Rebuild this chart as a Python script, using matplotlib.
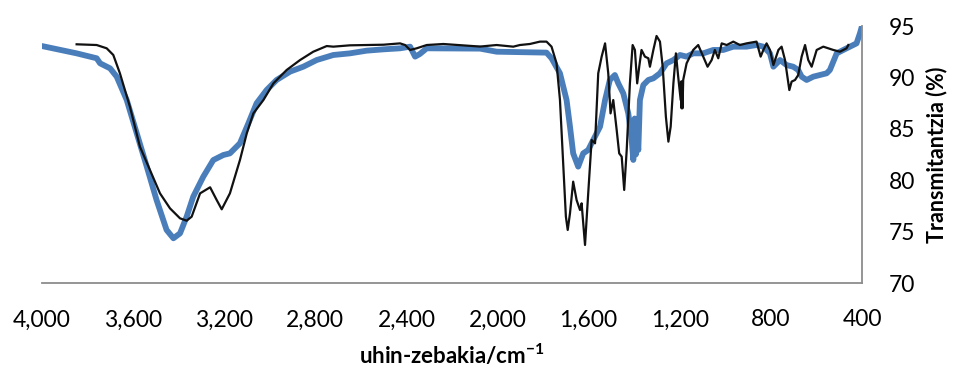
import matplotlib
matplotlib.use("Agg")
import matplotlib.pyplot as plt
from matplotlib.ticker import FuncFormatter

plt.rcParams['font.family'] = ['Lato', 'DejaVu Sans']
plt.rcParams['mathtext.fontset'] = 'custom'
plt.rcParams['mathtext.rm'] = 'Lato'
plt.rcParams['mathtext.bf'] = 'Lato:bold'

# Blue spectrum (wavenumber cm-1, transmittance %)
blue_wn = [4000, 3848, 3760, 3745, 3701, 3672, 3628, 3584, 3540, 3497, 3453, 3423,
           3394, 3365, 3336, 3292, 3248, 3204, 3175, 3131, 3094, 3058, 3014, 2970,
           2911, 2853, 2794, 2721, 2648, 2575, 2501, 2428, 2384, 2362, 2341, 2311,
           2077, 2004, 1785, 1763, 1726, 1697, 1682, 1668, 1646, 1624, 1602, 1580,
           1550, 1528, 1507, 1485, 1470, 1448, 1426, 1411, 1404, 1398, 1393, 1389,
           1382, 1375, 1360, 1338, 1316, 1287, 1258, 1228, 1199, 1170, 1141, 1097,
           1053, 1009, 965, 907, 863, 833, 804, 789, 760, 731, 702, 680, 665, 643,
           614, 555, 541, 511, 482, 453, 424, 409, 400]
blue_t = [93.05, 92.34, 91.86, 91.37, 90.88, 90.07, 87.8, 84.56, 81.32, 78.07, 75.16, 74.35,
          74.83, 76.45, 78.4, 80.34, 81.96, 82.45, 82.61, 83.59, 85.53, 87.48, 88.77, 89.75,
          90.56, 91.04, 91.69, 92.18, 92.34, 92.6, 92.73, 92.83, 92.99, 92.02, 92.28, 92.83,
          92.8, 92.5, 92.41, 91.86, 90.4, 87.8, 85.21, 82.61, 81.32, 82.61, 82.94, 83.91,
          85.21, 87.8, 89.75, 90.23, 89.42, 88.45, 86.5, 83.91, 81.97, 86.0, 82.5, 84.56,
          82.94, 87.8, 89.26, 89.75, 89.91, 90.4, 91.37, 91.69, 92.18, 92.02, 92.34, 92.34,
          92.67, 92.67, 92.99, 92.99, 93.15, 92.99, 92.34, 91.04, 91.69, 91.2, 91.04, 90.72, 90.07, 89.75,
          90.07, 90.4, 90.72, 92.34, 92.67, 92.99, 93.31, 94.29, 95.0]

# Black spectrum
black_wn = [3848, 3760, 3716, 3687, 3658, 3614, 3570, 3526, 3482, 3438, 3394, 3365,
            3343, 3306, 3262, 3233, 3211, 3175, 3131, 3101, 3072, 3028, 2984, 2926,
            2867, 2809, 2750, 2721, 2648, 2575, 2501, 2428, 2406, 2384, 2355, 2311,
            2238, 2077, 2004, 1931, 1902, 1858, 1814, 1785, 1763, 1741, 1726, 1711,
            1700, 1692, 1682, 1668, 1653, 1638, 1631, 1616, 1602, 1587, 1572, 1558,
            1543, 1528, 1514, 1504, 1492, 1477, 1466, 1455, 1444, 1433, 1419, 1407,
            1397, 1387, 1378, 1368, 1353, 1338, 1331, 1316, 1302, 1287, 1275, 1261,
            1250, 1240, 1228, 1217, 1207, 1196, 1194, 1192, 1190, 1188, 1185, 1170,
            1141, 1119, 1097, 1078, 1060, 1046, 1031, 1016, 994, 965, 936, 907, 863,
            845, 833, 819, 804, 789, 767, 753, 738, 719, 709, 694, 680, 665, 650,
            636, 621, 599, 570, 526, 497, 468, 460]
black_t = [93.22, 93.15, 92.83, 92.18, 90.4, 87.15, 83.26, 81.0, 78.72, 77.26, 76.29, 76.06,
           76.45, 78.72, 79.31, 78.07, 77.17, 78.72, 81.96, 84.56, 86.5, 87.8, 89.42, 90.72,
           91.69, 92.5, 93.05, 92.99, 93.12, 93.15, 93.18, 93.31, 93.15, 92.67, 92.83, 93.15,
           93.25, 93.0, 93.15, 92.99, 93.15, 93.25, 93.48, 93.48, 92.99, 91.37, 87.8, 81.32,
           76.45, 75.16, 76.78, 79.86, 78.07, 77.1, 77.75, 73.7, 78.72, 83.91, 83.59, 90.4,
           92.02, 93.31, 90.4, 86.5, 87.8, 84.88, 82.61, 82.29, 79.05, 82.94, 89.42, 93.15,
           92.67, 89.42, 91.04, 92.67, 92.02, 91.86, 91.04, 92.67, 94.03, 93.48, 91.04, 86.18,
           83.75, 85.21, 89.42, 92.34, 90.07, 87.8, 89.6, 86.99, 89.6, 87.0, 89.75, 91.37,
           92.67, 93.15, 92.02, 91.04, 91.69, 92.67, 91.86, 93.31, 93.15, 93.48, 93.15, 93.31, 93.48,
           92.02, 92.67, 93.31, 92.67, 91.2, 92.67, 92.99, 91.69, 88.77, 89.59, 89.75, 90.23, 92.02, 93.15,
           91.69, 91.04, 92.67, 92.99, 92.67, 92.5, 92.83, 93.15]

x_ticks = [4000, 3600, 3200, 2800, 2400, 2000, 1600, 1200, 800, 400]
y_ticks = [70, 75, 80, 85, 90, 95]

fig = plt.figure(figsize=(9.54, 3.69), dpi=100)
ax = fig.add_axes([42/954, 1-283/369, 820/954, 257/369])

ax.plot(blue_wn, blue_t, color='#4a7ebb', lw=4.2, solid_joinstyle='round',
        solid_capstyle='round', zorder=2)
ax.plot(black_wn, black_t, color='#111111', lw=1.6, solid_joinstyle='round', zorder=3)

ax.set_xlim(4000, 400)
ax.set_ylim(70, 95)
ax.set_xticks(x_ticks)
ax.set_yticks(y_ticks)
ax.xaxis.set_major_formatter(FuncFormatter(lambda v, p: f"{int(v):,}"))

ax.yaxis.tick_right()
ax.yaxis.set_label_position('right')
for s in ['left', 'top']:
    ax.spines[s].set_visible(False)
for s in ['bottom', 'right']:
    ax.spines[s].set_color('#8c8c8c')
    ax.spines[s].set_linewidth(1.3)

ax.tick_params(axis='both', length=0, labelsize=16.5, colors='black')
ax.tick_params(axis='x', pad=19)
ax.tick_params(axis='y', pad=19)
for lab in ax.get_yticklabels():
    lab.set_horizontalalignment('left')

ax.set_xlabel(r'uhin-zebakia/cm$^{\mathbf{-1}}$', fontsize=16, fontweight='bold', labelpad=9)
ax.set_ylabel('Transmitantzia (%)', fontsize=15.5, fontweight='bold', labelpad=8)

fig.savefig('out.png', dpi=100)
